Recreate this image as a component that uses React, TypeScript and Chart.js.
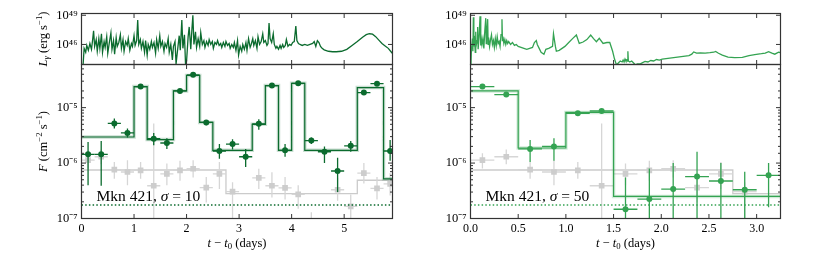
import React, { useEffect, useRef } from 'react';
import { Chart, registerables } from 'chart.js';
Chart.register(...registerables);

// ---------------- DATA ----------------
const LEFT_T_MAX = 5.92;
const RIGHT_T_MAX = 3.25;
const LUM_MIN_LOG = 43.94;
const LUM_MAX_LOG = 49.18;
const FLUX_MIN = 1e-7;
const FLUX_MAX = 6e-5;
const lumTickValues = [1e46, 1e49];
const xTickStepLeft = 1;
const xTickStepRight = 0.5;
const sensitivityFlux = 1.75e-7;
const binHalfWidth = 0.125;

// gamma-ray luminosity light curves: [t - t0 (days), log10 L]
const leftLum: [number, number][] = [
  [0.03,43.9],[0.05,45.6],[0.08,45.2],[0.10,45.9],[0.13,45.4],[0.16,46.1],[0.19,45.5],[0.21,46.4],[0.23,47.4],[0.25,45.8],
  [0.28,46.5],[0.30,45.3],[0.33,46.6],[0.35,45.6],[0.38,47.1],[0.40,45.2],[0.43,46.3],[0.45,45.7],[0.48,46.8],[0.50,45.1],
  [0.53,46.2],[0.56,47.2],[0.58,45.5],[0.61,46.4],[0.63,45.0],[0.66,46.7],[0.68,45.8],[0.71,46.2],[0.74,47.0],[0.76,45.6],
  [0.79,46.5],[0.81,45.3],[0.84,46.3],[0.87,45.9],[0.89,46.6],[0.92,45.4],[0.95,46.1],[0.97,45.8],[1.00,46.9],[1.02,45.9],
  [1.05,46.4],[1.07,48.5],[1.09,46.0],[1.12,46.5],[1.14,45.6],[1.17,46.3],[1.20,45.2],[1.22,46.4],[1.25,44.9],[1.27,46.0],
  [1.30,45.5],[1.33,46.3],[1.35,45.7],[1.38,46.2],[1.41,45.1],[1.43,46.5],[1.46,45.6],[1.49,46.9],[1.51,45.8],[1.54,46.3],
  [1.57,45.3],[1.59,46.1],[1.62,45.7],[1.65,46.6],[1.67,45.2],[1.70,46.0],[1.73,44.4],[1.75,45.8],[1.78,46.3],[1.80,44.0],
  [1.83,45.5],[1.86,46.9],[1.88,45.4],[1.91,48.5],[1.93,45.6],[1.96,47.0],[1.98,44.0],[2.00,44.3],[2.03,46.8],[2.05,47.8],
  [2.08,45.5],[2.10,47.4],[2.12,49.0],[2.14,46.0],[2.17,47.3],[2.19,45.7],[2.22,46.6],[2.25,45.8],[2.27,47.2],[2.30,46.0],
  [2.33,46.4],[2.35,45.7],[2.38,46.3],[2.41,45.9],[2.43,46.5],[2.46,46.0],[2.49,46.3],[2.51,45.6],[2.54,46.2],[2.57,46.0],
  [2.59,46.4],[2.62,45.9],[2.65,46.1],[2.67,45.7],[2.70,46.2],[2.73,45.8],[2.75,46.3],[2.78,45.9],[2.81,46.1],[2.83,45.6],
  [2.86,46.0],[2.89,45.7],[2.91,46.2],[2.94,45.4],[2.97,46.4],[2.99,44.9],[3.02,45.8],[3.05,45.3],[3.07,46.0],[3.10,45.5],
  [3.13,46.2],[3.15,45.4],[3.18,46.6],[3.21,45.7],[3.23,46.0],[3.26,46.6],[3.28,45.9],[3.31,46.4],[3.34,45.6],[3.36,46.8],
  [3.39,46.0],[3.42,46.3],[3.45,47.1],[3.47,46.2],[3.50,46.4],[3.53,45.9],[3.55,46.1],[3.57,48.2],[3.59,46.6],[3.62,46.2],
  [3.65,47.1],[3.67,46.0],[3.70,45.6],[3.72,45.8],[3.75,45.5],[3.78,45.9],[3.80,45.6],[3.83,46.0],[3.85,45.7],[3.88,45.9],
  [3.90,46.5],[3.93,45.8],[3.96,46.0],[3.99,45.9],[4.02,46.2],[4.05,46.3],[4.08,47.9],[4.10,46.4],[4.13,46.1],[4.16,46.0],
  [4.20,45.9],[4.25,46.0],[4.30,45.9],[4.35,46.0],[4.40,46.1],[4.43,46.3],[4.46,45.8],[4.49,46.4],[4.52,46.2],[4.55,45.8],
  [4.58,45.6],[4.62,45.45],[4.70,45.3],[4.78,45.25],[4.85,45.25],[4.95,45.3],[5.05,45.5],[5.15,45.9],[5.25,46.3],[5.35,46.75],
  [5.42,47.0],[5.48,47.1],[5.54,47.05],[5.60,46.8],[5.66,46.45],[5.72,46.1],[5.78,45.85],[5.84,45.6],[5.90,45.2],[5.93,45.0]
];

const rightLum: [number, number][] = [
  [0.005,43.9],[0.01,45.5],[0.02,46.6],[0.025,45.3],[0.03,48.8],[0.035,45.8],[0.04,46.9],[0.05,45.2],[0.055,47.3],[0.06,45.9],
  [0.07,46.4],[0.075,47.8],[0.08,45.5],[0.09,46.8],[0.10,48.9],[0.105,45.9],[0.11,47.1],[0.12,46.0],[0.13,46.6],[0.14,45.6],
  [0.15,47.4],[0.16,48.7],[0.165,46.1],[0.17,46.9],[0.18,48.6],[0.185,46.0],[0.19,46.7],[0.20,45.8],[0.21,46.5],[0.22,47.0],
  [0.23,46.0],[0.24,46.4],[0.25,45.7],[0.26,46.6],[0.27,45.9],[0.28,46.8],[0.29,46.1],[0.30,46.3],[0.31,45.8],[0.32,47.0],
  [0.33,48.6],[0.335,46.4],[0.34,46.8],[0.35,46.1],[0.36,46.5],[0.37,46.0],[0.38,46.4],[0.39,46.1],[0.40,46.3],[0.42,46.0],
  [0.44,46.2],[0.46,45.9],[0.48,46.0],[0.50,45.8],[0.53,45.7],[0.56,45.6],[0.59,45.5],[0.62,45.6],[0.65,45.7],[0.67,46.2],
  [0.69,46.4],[0.70,46.0],[0.72,45.6],[0.74,45.2],[0.77,45.0],[0.79,45.5],[0.82,45.6],[0.84,45.7],[0.86,45.8],[0.87,47.1],
  [0.89,45.8],[0.90,45.3],[0.93,45.4],[0.99,45.8],[1.03,46.2],[1.07,46.6],[1.11,46.97],[1.14,46.1],[1.18,46.25],[1.22,46.5],
  [1.26,46.97],[1.29,46.6],[1.32,46.28],[1.35,46.63],[1.39,46.1],[1.43,46.2],[1.46,46.2],[1.49,45.3],[1.51,44.5],[1.53,43.9],
  [1.55,44.1],[1.57,44.3],[1.59,44.2],[1.60,44.4],[1.61,44.2],[1.62,44.5],[1.63,44.3],[1.64,44.4],[1.645,44.3],
  [1.65,45.3],[1.655,44.3],[1.67,44.2],[1.69,44.3],[1.71,44.1],[1.73,43.9],[1.75,44.0],[1.78,44.0],[1.80,44.1],[1.83,44.25],
  [1.86,44.2],[1.89,44.35],[1.92,44.3],[1.95,44.45],[1.98,44.4],[2.01,44.5],[2.05,44.55],[2.09,44.6],[2.13,44.65],[2.17,44.7],
  [2.21,44.75],[2.25,44.8],[2.29,44.85],[2.32,45.0],[2.34,45.23],[2.37,45.1],[2.41,45.12],[2.46,45.1],[2.51,45.15],[2.55,45.2],
  [2.57,45.28],[2.60,45.1],[2.64,44.9],[2.70,44.7],[2.77,44.65],[2.85,44.68],[2.92,44.85],[2.98,44.95],[3.05,45.05],[3.09,45.12],
  [3.125,45.26],[3.16,45.1],[3.19,45.0],[3.23,45.2],[3.26,45.15]
];

// binned Fermi fluxes, green (sigma = 10, left panel)
const leftBinT = [0.125,0.375,0.625,0.875,1.125,1.375,1.625,1.875,2.125,2.375,2.625,2.875,3.125,3.375,3.625,3.875,4.125,4.375,4.625,4.875,5.125,5.375,5.625,5.875];
const leftFlux = [1.44e-6,1.44e-6,5.2e-6,3.5e-6,2.4e-5,2.75e-6,2.3e-6,2.0e-5,3.9e-5,5.4e-6,1.65e-6,2.2e-6,1.3e-6,5.1e-6,2.5e-5,1.7e-6,2.75e-5,2.55e-6,1.6e-6,7.2e-7,2.05e-6,1.87e-5,2.7e-5,1.65e-6];
const leftFluxLo = [4.0e-7,3.9e-7,4.2e-6,2.9e-6,2.2e-5,2.1e-6,1.8e-6,1.85e-5,3.65e-5,4.8e-6,1.2e-6,1.75e-6,8.5e-7,4.0e-6,2.3e-5,1.3e-6,2.55e-5,2.2e-6,1.0e-6,3.0e-7,1.6e-6,1.72e-5,2.5e-5,1.1e-6];
const leftFluxHi = [2.4e-6,2.5e-6,6.4e-6,4.2e-6,2.6e-5,3.5e-6,2.8e-6,2.15e-5,4.2e-5,6.0e-6,2.2e-6,2.7e-6,1.8e-6,6.2e-6,2.7e-5,2.2e-6,2.95e-5,2.9e-6,2.0e-6,1.25e-6,2.5e-6,2.0e-5,2.9e-5,2.6e-6];

// binned Fermi fluxes, green (sigma = 50, right panel)
const rightBinT = [0.125,0.375,0.625,0.875,1.125,1.375,1.625,1.875,2.125,2.375,2.625,2.875,3.125];
const rightFlux = [2.4e-5,1.72e-5,1.8e-6,2.0e-6,7.9e-6,8.7e-6,1.47e-7,2.24e-7,3.4e-7,5.7e-7,4.75e-7,3.3e-7,6.0e-7];
const rightFluxLo = [2.25e-5,1.6e-5,1.05e-6,1.1e-6,7.2e-6,8.1e-6,3e-8,3e-8,5e-8,5e-8,5e-8,3e-8,1.6e-7];
const rightFluxHi = [2.55e-5,1.85e-5,2.6e-6,2.8e-6,8.6e-6,9.3e-6,5.5e-7,8.0e-7,1.0e-6,1.6e-6,1.0e-6,7.0e-7,1.0e-6];

// background (grey) fluxes
const grayT = [0.125,0.375,0.625,0.875,1.125,1.375,1.625,1.875,2.125,2.375,2.625,2.875,3.375,3.625,3.875,4.125,4.375,4.875,5.125,5.375,5.625,5.875];
const grayFlux = [1.13e-6,1.3e-6,7.6e-7,6.9e-7,7.4e-7,3.9e-7,6.4e-7,7.4e-7,7.9e-7,3.6e-7,6.4e-7,3.05e-7,5.4e-7,3.9e-7,3.56e-7,2.73e-7,6e-8,3.3e-7,1.65e-7,6.6e-7,3.5e-7,4.2e-7];
const grayLo = [8.0e-7,9.5e-7,5.2e-7,4.0e-7,5.2e-7,5e-8,4.0e-7,4.8e-7,5.5e-7,1.95e-7,3.4e-7,1e-7,3.4e-7,2.4e-7,2.2e-7,1.5e-7,3e-8,2.1e-7,1.0e-7,4.3e-7,2.2e-7,2.6e-7];
const grayHi = [1.5e-6,1.75e-6,1.05e-6,1.13e-6,1.05e-6,5.2e-6,9.8e-7,1.1e-6,1.12e-6,5.6e-7,1.05e-6,4.5e-7,7.9e-7,6.8e-7,5.6e-7,4.0e-7,1.3e-7,5.4e-7,2.7e-7,1.0e-6,5.6e-7,6.6e-7];

// Bayesian-block step levels
const leftStepEdges = [0,1,1.25,1.75,2,2.25,2.5,3.25,3.5,3.75,4,4.25,5.25,5.75,LEFT_T_MAX];
const leftStepLevels = [2.95e-6,2.4e-5,2.65e-6,2.0e-5,3.8e-5,5.4e-6,1.7e-6,5.0e-6,2.5e-5,1.7e-6,2.75e-5,1.7e-6,2.3e-5,5.2e-7];
const leftGrayEdges = [0,2.75,5.25,LEFT_T_MAX];
const leftGrayLevels = [7.5e-7,2.8e-7,4.9e-7];
const rightStepEdges = [0,0.5,1.0,1.5,RIGHT_T_MAX];
const rightStepLevels = [2.0e-5,1.87e-6,8.2e-6,2.5e-7];
const rightGrayEdges = [0,2.75,RIGHT_T_MAX];
const rightGrayLevels = [7.5e-7,2.8e-7];

// ---------------- STYLE ----------------
const W = 822, H = 274;
const FONT = "'Liberation Serif', 'Times New Roman', serif";
const DARK_GREEN = '#0b6b2e';
const DARK_GREEN_BAND = 'rgba(11,107,46,0.22)';
const MID_GREEN = '#34a352';
const MID_GREEN_BAND = 'rgba(52,163,82,0.22)';
const GRAY = '#cdcdcd';
const GRAY_BAR = '#d6d6d6';
const AXIS = '#333333';

type Seg = { t: string; it?: boolean; sup?: boolean; sub?: boolean };
type TextItem = { segs: Seg[]; size: number; x: (a: any) => number; y: (a: any) => number; rot?: boolean; align: 'left' | 'center' };
type ErrSet = { before: number; t: number[]; v: number[]; lo: number[]; hi: number[]; color: string; width: number };

const SUP: Record<string, string> = { '-': '⁻', '0': '⁰', '1': '¹', '2': '²', '3': '³', '4': '⁴', '5': '⁵', '6': '⁶', '7': '⁷', '8': '⁸', '9': '⁹' };
const isPow10 = (v: number) => Math.abs(Math.log10(v) - Math.round(Math.log10(v))) < 1e-6;
const pow10Label = (v: number) => isPow10(v) ? '10' + String(Math.round(Math.log10(v))).split('').map(c => SUP[c]).join('') : '';

function drawRich(ctx: CanvasRenderingContext2D, it: TextItem, a: any) {
  const size = it.size;
  ctx.save();
  ctx.translate(it.x(a), it.y(a));
  if (it.rot) ctx.rotate(-Math.PI / 2);
  ctx.textBaseline = 'alphabetic';
  ctx.textAlign = 'left';
  ctx.fillStyle = '#000';
  const fontOf = (s: Seg) => `${s.it ? 'italic ' : ''}${(s.sup || s.sub) ? size * 0.7 : size}px ${FONT}`;
  let total = 0;
  const ws = it.segs.map(s => { ctx.font = fontOf(s); const w = ctx.measureText(s.t).width; total += w; return w; });
  let cx = it.align === 'center' ? -total / 2 : 0;
  it.segs.forEach((s, i) => {
    ctx.font = fontOf(s);
    const dy = s.sup ? -size * 0.4 : s.sub ? size * 0.2 : 0;
    ctx.fillText(s.t, cx, dy);
    cx += ws[i];
  });
  ctx.restore();
}

function pts(t: number[], v: number[]) { return t.map((x, i) => ({ x, y: v[i] })); }
function stepPts(edges: number[], levels: number[]) {
  return edges.map((x, i) => ({ x, y: levels[Math.min(i, levels.length - 1)] }));
}
function lumPts(d: [number, number][]) { return d.map(([x, l]) => ({ x, y: Math.pow(10, l) })); }

interface Panel {
  area: { l: number; t: number; r: number; b: number };
  xMax: number; xStep: number; xFmt: (v: number) => string; showX: boolean;
  yMin: number; yMax: number; yTicks?: number[]; minorY: boolean;
  datasets: any[]; errSets: ErrSet[]; texts: TextItem[];
}

function build(canvas: HTMLCanvasElement, p: Panel) {
  const errPlugin = {
    id: 'errbars',
    beforeDatasetDraw(chart: any, args: any) {
      const sets = p.errSets.filter(s => s.before === args.index);
      if (!sets.length) return;
      const { ctx, chartArea: a, scales: { x, y } } = chart;
      ctx.save();
      ctx.beginPath(); ctx.rect(a.left, a.top, a.right - a.left, a.bottom - a.top); ctx.clip();
      for (const s of sets) {
        ctx.strokeStyle = s.color; ctx.lineWidth = s.width;
        s.t.forEach((t, i) => {
          const px = x.getPixelForValue(t), py = y.getPixelForValue(s.v[i]);
          ctx.beginPath();
          ctx.moveTo(x.getPixelForValue(t - binHalfWidth), py); ctx.lineTo(x.getPixelForValue(t + binHalfWidth), py);
          ctx.moveTo(px, y.getPixelForValue(s.lo[i])); ctx.lineTo(px, y.getPixelForValue(s.hi[i]));
          ctx.stroke();
        });
      }
      ctx.restore();
    }
  };
  const framePlugin = {
    id: 'frameTicks',
    afterDraw(chart: any) {
      const { ctx, chartArea: a, scales: { x, y } } = chart;
      ctx.save();
      ctx.strokeStyle = AXIS; ctx.lineWidth = 1;
      ctx.beginPath();
      const maj = 4.5, min = 2.5;
      for (const t of x.ticks) {
        const px = x.getPixelForValue(t.value);
        if (px < a.left - 0.5 || px > a.right + 0.5) continue;
        ctx.moveTo(px, a.top); ctx.lineTo(px, a.top + maj);
        ctx.moveTo(px, a.bottom); ctx.lineTo(px, a.bottom - maj);
      }
      for (const t of y.ticks) {
        const py = y.getPixelForValue(t.value);
        if (py < a.top - 0.5 || py > a.bottom + 0.5) continue;
        const len = isPow10(t.value) ? maj : (p.minorY ? min : 0);
        if (!len) continue;
        ctx.moveTo(a.left, py); ctx.lineTo(a.left + len, py);
        ctx.moveTo(a.right, py); ctx.lineTo(a.right - len, py);
      }
      ctx.stroke();
      ctx.lineWidth = 1.2;
      ctx.strokeRect(a.left, a.top, a.right - a.left, a.bottom - a.top);
      ctx.restore();
      p.texts.forEach(it => drawRich(ctx, it, a));
    }
  };
  const xBoxH = H - p.area.b;
  return new Chart(canvas, {
    type: 'line',
    data: { datasets: p.datasets },
    options: {
      animation: false, responsive: false, devicePixelRatio: 1, events: [],
      layout: { padding: { left: 0, top: p.area.t, right: W - p.area.r, bottom: 0 } },
      plugins: { legend: { display: false }, tooltip: { enabled: false } },
      scales: {
        x: {
          type: 'linear', min: 0, max: p.xMax,
          grid: { display: false, drawTicks: false, tickLength: 0 }, border: { display: false },
          ticks: { display: p.showX, stepSize: p.xStep, includeBounds: false, autoSkip: false, maxRotation: 0, minRotation: 0, padding: 3,
            color: '#000', font: { family: FONT, size: 12 }, callback: (v: any) => p.xFmt(Number(v)) },
          afterFit: (s: any) => { s.height = xBoxH; }
        },
        y: {
          type: 'logarithmic', min: p.yMin, max: p.yMax,
          grid: { display: false, drawTicks: false, tickLength: 0 }, border: { display: false },
          ticks: { autoSkip: false, padding: 4, color: '#000', font: { family: FONT, size: 12.5 },
            callback: (v: any) => pow10Label(Number(v)) },
          afterBuildTicks: (s: any) => { if (p.yTicks) s.ticks = p.yTicks.map(v => ({ value: v })); },
          afterFit: (s: any) => { s.width = p.area.l; }
        }
      }
    } as any,
    plugins: [errPlugin, framePlugin]
  });
}

function lineDs(data: any[], color: string, width: number, extra: any = {}) {
  return { data, borderColor: color, borderWidth: width, pointRadius: 0, fill: false, tension: 0, ...extra };
}
function pointDs(data: any[], color: string, style: string, r: number) {
  return { data, showLine: false, pointStyle: style, pointRadius: r, pointBackgroundColor: color, pointBorderWidth: 0, borderColor: color, backgroundColor: color };
}

const xTitle: Seg[] = [{ t: 't', it: true }, { t: ' − ' }, { t: 't', it: true }, { t: '0', sub: true }, { t: ' (days)' }];

function bottomPanel(side: 'left' | 'right'): Panel {
  const L = side === 'left';
  const area = L ? { l: 81.5, t: 64.5, r: 392.5, b: 218.5 } : { l: 470.5, t: 64.5, r: 780.5, b: 218.5 };
  const xMax = L ? LEFT_T_MAX : RIGHT_T_MAX;
  const green = L ? DARK_GREEN : MID_GREEN;
  const band = L ? DARK_GREEN_BAND : MID_GREEN_BAND;
  const bt = L ? leftBinT : rightBinT, bf = L ? leftFlux : rightFlux;
  const blo = L ? leftFluxLo : rightFluxLo, bhi = L ? leftFluxHi : rightFluxHi;
  const datasets = [
    pointDs(pts(bt, bf), green, 'circle', 3),                                            // 0
    lineDs([{ x: 0, y: sensitivityFlux }, { x: xMax, y: sensitivityFlux }], green, 1.5, { borderDash: [1.5, 2.2] }), // 1
    lineDs(stepPts(L ? leftStepEdges : rightStepEdges, L ? leftStepLevels : rightStepLevels), green, 1.2, { stepped: 'before' }), // 2
    lineDs(stepPts(L ? leftStepEdges : rightStepEdges, L ? leftStepLevels : rightStepLevels), band, 3.5, { stepped: 'before' }),  // 3
    pointDs(pts(grayT, grayFlux), GRAY, 'rect', 4),                                      // 4
    lineDs(stepPts(L ? leftGrayEdges : rightGrayEdges, L ? leftGrayLevels : rightGrayLevels), '#cbcbcb', 1.3, { stepped: 'before' }), // 5
  ];
  const texts: TextItem[] = [
    { segs: xTitle, size: 12.5, x: a => (a.left + a.right) / 2, y: () => 246.5, align: 'center' },
    { segs: [{ t: 'Mkn 421, ' }, { t: 'σ', it: true }, { t: ' = ' + (L ? '10' : '50') }], size: 15.5, x: a => a.left + 15, y: a => a.bottom - 18, align: 'left' },
  ];
  if (L) texts.push({ segs: [{ t: 'F', it: true }, { t: ' (cm' }, { t: '−2', sup: true }, { t: ' s' }, { t: '−1', sup: true }, { t: ')' }], size: 12.5, x: () => 46.5, y: a => (a.top + a.bottom) / 2, rot: true, align: 'center' });
  return {
    area, xMax, xStep: L ? xTickStepLeft : xTickStepRight, xFmt: v => L ? String(v) : v.toFixed(1), showX: true,
    yMin: FLUX_MIN, yMax: FLUX_MAX, minorY: true, datasets,
    errSets: [
      { before: 4, t: grayT, v: grayFlux, lo: grayLo, hi: grayHi, color: GRAY_BAR, width: 1.3 },
      { before: 0, t: bt, v: bf, lo: blo, hi: bhi, color: green, width: 1.3 },
    ],
    texts,
  };
}

function topPanel(side: 'left' | 'right'): Panel {
  const L = side === 'left';
  const area = L ? { l: 81.5, t: 13.5, r: 392.5, b: 64.5 } : { l: 470.5, t: 13.5, r: 780.5, b: 64.5 };
  const texts: TextItem[] = [];
  if (L) texts.push({ segs: [{ t: 'L', it: true }, { t: 'γ', it: true, sub: true }, { t: ' (erg s' }, { t: '−1', sup: true }, { t: ')' }], size: 12.5, x: () => 46.5, y: a => (a.top + a.bottom) / 2, rot: true, align: 'center' });
  return {
    area, xMax: L ? LEFT_T_MAX : RIGHT_T_MAX, xStep: L ? xTickStepLeft : xTickStepRight, xFmt: () => '', showX: false,
    yMin: Math.pow(10, LUM_MIN_LOG), yMax: Math.pow(10, LUM_MAX_LOG), yTicks: lumTickValues, minorY: false,
    datasets: [lineDs(lumPts(L ? leftLum : rightLum), L ? DARK_GREEN : MID_GREEN, 1.3)],
    errSets: [], texts,
  };
}

export default function App() {
  const r0 = useRef<HTMLCanvasElement>(null);
  const r1 = useRef<HTMLCanvasElement>(null);
  const r2 = useRef<HTMLCanvasElement>(null);
  const r3 = useRef<HTMLCanvasElement>(null);
  const refs = [r0, r1, r2, r3];
  useEffect(() => {
    const panels = [topPanel('left'), bottomPanel('left'), topPanel('right'), bottomPanel('right')];
    const charts = panels.map((p, i) => build(refs[i].current!, p));
    return () => charts.forEach(c => c.destroy());
  }, []);
  return (
    <div style={{ position: 'absolute', left: 0, top: 0, width: W, height: H, background: '#fff' }}>
      {refs.map((r, i) => (
        <canvas key={i} ref={r} width={W} height={H} style={{ position: 'absolute', left: 0, top: 0, width: W, height: H }} />
      ))}
    </div>
  );
}
